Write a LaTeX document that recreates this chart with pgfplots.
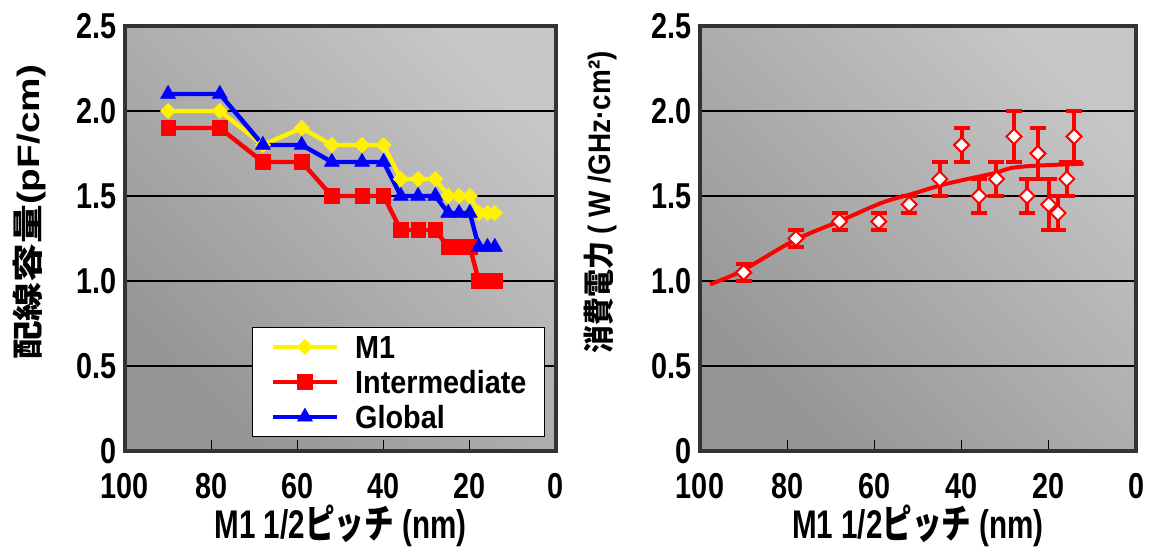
\documentclass[border=0pt]{standalone}
\usepackage{fontspec}
\setmainfont{Liberation Sans}
\newfontfamily\ticksans{Liberation Sans}[FakeStretch=0.8]
\newfontfamily\narrowsans{Liberation Sans}[FakeStretch=0.74]
\newfontfamily\narrowjp{Noto Sans CJK JP}[FakeStretch=0.74]
\newfontfamily\legsans{Liberation Sans}[FakeStretch=0.9]
\newfontfamily\widesans{Liberation Sans}[FakeStretch=1.25]
\newfontfamily\widejp{Noto Sans CJK JP}[FakeStretch=1.25]
\newfontfamily\midsans{Liberation Sans}[FakeStretch=0.9]
\newfontfamily\midjp{Noto Sans CJK JP}[FakeStretch=0.9]
\usepackage{pgfplots}
\pgfplotsset{compat=1.18}

\definecolor{framegray}{HTML}{333333}
\definecolor{bglo}{HTML}{959595}
\definecolor{bghi}{HTML}{C6C6C6}

% wiring capacitance (pF/cm) vs. M1 half pitch (nm)
\pgfplotstableread{
x     m1   inter global
90    2.0  1.9   2.1
78    2.0  1.9   2.1
68    1.8  1.7   1.8
59    1.9  1.7   1.8
52    1.8  1.5   1.7
45    1.8  1.5   1.7
40    1.8  1.5   1.7
36    1.6  1.3   1.5
32    1.6  1.3   1.5
28    1.6  1.3   1.5
25    1.5  1.2   1.4
22.5  1.5  1.2   1.4
20    1.5  1.2   1.4
17.9  1.4  1.0   1.2
15.9  1.4  1.0   1.2
14.2  1.4  1.0   1.2
}\wiringdata

% power (W/GHz cm^2) with error
\pgfplotstableread{
x     p     e
90    1.05  0.05
78    1.25  0.05
68    1.35  0.05
59    1.35  0.05
52    1.45  0.05
45    1.60  0.10
40    1.80  0.10
36    1.50  0.10
32    1.60  0.10
28    1.85  0.15
25    1.50  0.10
22.5  1.75  0.15
20    1.45  0.15
17.9  1.40  0.10
15.9  1.60  0.10
14.2  1.85  0.15
}\powerdata

\pgfplotsset{
  panel/.style={
    scale only axis, height=212.5pt,
    x dir=reverse, xmin=0, xmax=100, ymin=0, ymax=2.5,
    xtick={0,20,40,60,80,100}, xticklabels={0,20,40,60,80,100},
    ytick={0,0.5,1,1.5,2,2.5}, yticklabels={0,0.5,1.0,1.5,2.0,2.5},
    ymajorgrids, major grid style={black, line width=0.6pt},
    axis line style={draw=framegray, line width=2.3pt},
    tick align=inside, tick pos=left,
    major tick length=5.5pt,
    xtick style={black, line width=0.6pt},
    ytick style={draw=none},
    ticklabel style={font=\ticksans\bfseries\fontsize{18}{18}\selectfont},
    yticklabel style={anchor=east, inner sep=0pt, xshift=-4pt},
    xticklabel style={anchor=north, inner sep=0pt, yshift=-11pt},
    axis background/.style={top color=bghi, bottom color=bglo, shading angle=-45},
    xlabel style={at={(axis description cs:0.5,0)}, anchor=center, yshift=-37.5pt,
      font=\narrowsans\bfseries\fontsize{20}{20}\selectfont},
  },
}

\begin{document}
\begin{tikzpicture}
\useasboundingbox (0,0) rectangle (575pt,274.5pt);

% left panel: wiring capacitance
\begin{axis}[panel, at={(62.5pt,49pt)}, anchor=south west, width=215.5pt,
  xlabel={M1 1/2{\narrowjp ピッチ} (nm)},
  ylabel={{\widejp 配線容量}(pF/cm)},
  ylabel style={at={([xshift=-48pt,yshift=13pt]axis description cs:0,0.5)}, rotate=0, anchor=center,
    font=\widesans\bfseries\fontsize{15.5}{15.5}\selectfont},
  legend style={at={(0.9745,0.033)}, anchor=south east, draw=black, line width=0.6pt, fill=white,
    font=\legsans\bfseries\fontsize{16}{16}\selectfont,
    inner xsep=9pt, inner ysep=4pt, row sep=6pt, column sep=8pt,
    nodes={inner sep=0pt, text height=11.5pt, text depth=0pt}},
  legend cell align=left,
  legend image code/.code={\draw[mark repeat=2,mark phase=2] plot coordinates {(0pt,0pt) (16pt,0pt) (32pt,0pt)};},
]
\addplot[color=yellow, line width=2.2pt, mark=square*,
  mark options={rotate=45, mark size=2.7pt, line width=0.3pt}] table[x=x,y=m1]{\wiringdata};
\addlegendentry{M1}
\addplot[color=red, line width=2.2pt, mark=square*,
  mark options={mark size=3.6pt, line width=0.3pt}] table[x=x,y=inter]{\wiringdata};
\addlegendentry{Intermediate}
\addplot[color=blue, line width=2.2pt, mark=triangle*,
  mark options={mark size=4.3pt, line width=0.3pt}] table[x=x,y=global]{\wiringdata};
\addlegendentry{Global}
\end{axis}

% right panel: power
\begin{axis}[panel, at={(350pt,49pt)}, anchor=south west, width=218pt,
  xlabel={M1 1/2{\narrowjp ピッチ} (nm)},
  ylabel={{\midjp 消費電力} ( W /GHz·cm²)},
  ylabel style={at={([xshift=-50pt,yshift=18pt]axis description cs:0,0.5)}, rotate=0, anchor=center,
    font=\midsans\bfseries\fontsize{15.5}{15.5}\selectfont},
]
\addplot[red, line width=2pt, smooth] coordinates {
  (97.7,0.98) (90.4,1.06) (78.3,1.24) (67.7,1.355) (58.3,1.46) (51,1.515)
  (44.5,1.565) (38.6,1.60) (32.4,1.635) (28.5,1.665) (23.1,1.678) (12,1.69)
};
\addplot[only marks, mark=square*,
  mark options={rotate=45, fill=white, draw=red, line width=1pt, mark size=2.65pt},
  error bars/.cd, y dir=both, y explicit,
  error bar style={red, line width=2pt},
  error mark options={rotate=90, red, line width=2pt, mark size=4pt}]
  table[x=x, y=p, y error=e]{\powerdata};
\end{axis}
\end{tikzpicture}
\end{document}
